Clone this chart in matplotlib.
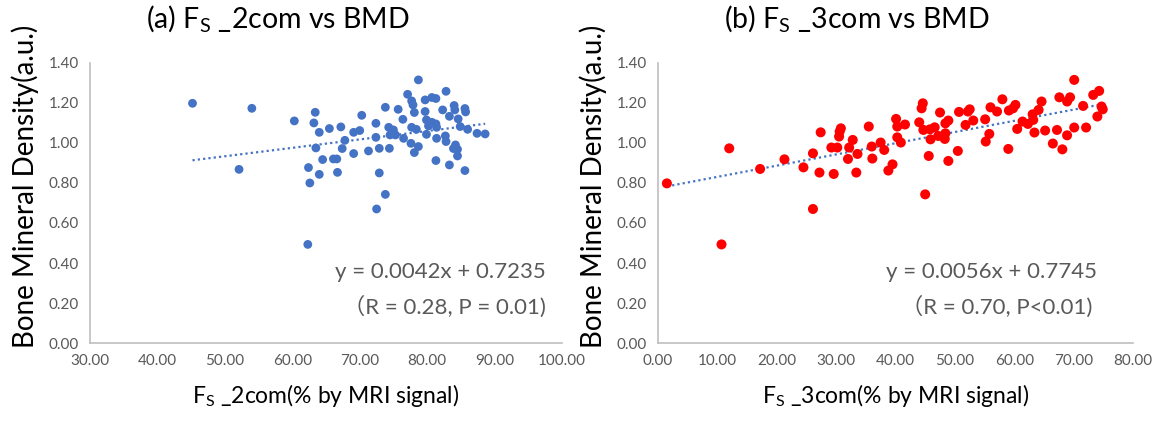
"""FS_2com / FS_3com vs BMD scatter with linear trend"""
import numpy as np
import matplotlib
matplotlib.use('Agg')
import matplotlib.pyplot as plt

plt.rcParams['font.family'] = ['Lato', 'Noto Sans CJK SC', 'DejaVu Sans']
plt.rcParams['mathtext.default'] = 'regular'

# --- data ---
fs2_x = [45.2, 54.0, 52.1, 60.3, 63.4, 63.2, 64.0, 65.5, 67.2, 70.3, 69.1, 70.0, 67.8, 72.4,
         72.4, 63.5, 67.4, 69.1, 71.3, 72.9, 64.5, 66.1, 66.6, 62.4, 64.0, 66.7, 62.6, 72.9,
         72.5, 62.3,
         78.7, 77.1, 77.7, 77.9, 79.7, 80.7, 81.3, 82.8, 73.8, 75.7, 78.1, 79.7, 82.3, 84.0,
         84.1, 85.6, 85.7, 83.3, 84.6, 76.4, 79.9, 80.7, 81.3, 80.2, 74.3, 75.0, 74.5, 75.3,
         77.7, 78.4, 79.9, 81.4, 84.9, 86.0, 87.4, 88.6, 76.5, 81.4, 82.7, 82.8, 77.6, 78.7,
         78.1, 84.2, 84.5, 83.9, 84.5, 74.4, 81.3, 83.3, 85.6, 73.8]
fs2_y = [1.198, 1.173, 0.868, 1.110, 1.153, 1.100, 1.053, 1.072, 1.080, 1.138, 1.053, 1.062,
         1.013, 1.098, 1.028, 0.975, 0.972, 0.947, 0.960, 0.973, 0.917, 0.920, 0.920, 0.877,
         0.843, 0.853, 0.800, 0.850, 0.670, 0.493,
         1.315, 1.243, 1.210, 1.190, 1.215, 1.227, 1.222, 1.258, 1.178, 1.168, 1.152, 1.157,
         1.165, 1.187, 1.165, 1.172, 1.155, 1.133, 1.120, 1.118, 1.115, 1.103, 1.095, 1.085,
         1.078, 1.065, 1.040, 1.040, 1.078, 1.068, 1.043, 1.078, 1.082, 1.068, 1.048, 1.045,
         1.023, 1.023, 1.035, 1.007, 0.998, 0.982, 0.952, 0.990, 0.968, 0.972, 0.935, 0.973,
         0.912, 0.890, 0.862, 0.743]

fs3_x = [1.5, 12.0, 10.7, 17.2, 21.3, 24.5, 26.1, 27.4, 27.2, 26.1, 29.6, 29.2, 30.2, 30.8,
         30.6, 30.5, 32.0, 32.2, 32.8, 33.6, 33.4, 35.5, 36.0, 36.1, 37.5, 38.1, 38.8, 39.5,
         40.1, 40.3, 41.6, 40.3, 40.9, 44.6, 44.4, 44.0, 44.7, 45.8, 46.6, 45.9, 45.6, 45.0,
         47.5, 48.4, 48.9, 47.2, 48.3, 48.4, 48.9, 50.5, 50.7, 52.2, 52.5, 53.1, 51.8, 55.1,
         56.0, 57.1, 58.0, 55.8, 55.2, 59.0, 59.1, 59.8, 60.2, 60.5, 61.4, 62.3, 63.2, 63.1,
         64.1, 64.6, 63.4, 65.2, 67.2, 67.6, 68.9, 69.4, 66.5, 68.1, 68.9, 70.1, 70.1, 72.1,
         71.6, 73.3, 74.3, 74.7, 74.9, 74.0]
fs3_y = [0.798, 0.973, 0.493, 0.870, 0.918, 0.878, 0.948, 1.053, 0.852, 0.670, 0.845, 0.977,
         0.977, 1.073, 1.057, 1.032, 0.920, 0.977, 1.015, 0.945, 0.852, 1.082, 0.982, 0.922,
         1.002, 0.965, 0.862, 0.893, 1.120, 1.082, 1.092, 1.028, 1.002, 1.198, 1.173, 1.103,
         1.065, 1.068, 1.078, 1.018, 0.935, 0.743, 1.152, 1.098, 1.112, 1.035, 1.020, 1.048,
         0.910, 0.960, 1.155, 1.157, 1.168, 1.112, 1.090, 1.118, 1.178, 1.157, 1.218, 1.045,
         1.007, 0.970, 1.162, 1.173, 1.190, 1.070, 1.107, 1.095, 1.115, 1.143, 1.165, 1.207,
         1.052, 1.062, 1.065, 1.228, 1.207, 1.228, 0.997, 0.968, 1.038, 1.315, 1.077, 1.077,
         1.185, 1.240, 1.260, 1.182, 1.168, 1.132]

# trend line coefficients as printed on the chart
fit2 = (0.0042, 0.7235)
fit3 = (0.0056, 0.7745)

yticks = [0.0, 0.2, 0.4, 0.6, 0.8, 1.0, 1.2, 1.4]
xticks2 = [30, 40, 50, 60, 70, 80, 90, 100]
xticks3 = [0, 10, 20, 30, 40, 50, 60, 70, 80]

BLUE = '#4472C4'
RED = '#FF0000'
GRID = '#BFBFBF'
TICK = '#595959'
TXT = '#595959'

fig = plt.figure(figsize=(11.66, 4.22), dpi=100)
ax1 = fig.add_axes([0.0772, 0.187, 0.4048, 0.664])
ax2 = fig.add_axes([0.5643, 0.187, 0.4074, 0.664])


def style(ax, xticks):
    ax.set_ylim(0, 1.4)
    ax.set_xlim(xticks[0], xticks[-1])
    ax.set_yticks(yticks)
    ax.set_xticks(xticks)
    ax.set_yticklabels([f'{v:.2f}' for v in yticks])
    ax.set_xticklabels([f'{v:.2f}' for v in xticks])
    for s in ('top', 'right'):
        ax.spines[s].set_visible(False)
    for s in ('left', 'bottom'):
        ax.spines[s].set_color(GRID)
        ax.spines[s].set_linewidth(1.2)
    ax.tick_params(length=0, labelsize=11, labelcolor=TICK, pad=8)
    ax.set_ylabel('Bone Mineral Density(a.u.)', fontsize=20, labelpad=7)
    ax.yaxis.label.set_y(0.56)  # sits a bit high, as in the original


# === (a) ===
style(ax1, xticks2)
ax1.scatter(fs2_x, fs2_y, s=40, color=BLUE, edgecolors='none', zorder=3)
xl = np.array([min(fs2_x), max(fs2_x)])
ax1.plot(xl, fit2[0] * xl + fit2[1], linestyle=(0, (1, 1.4)), color=BLUE, linewidth=1.6, zorder=2)
fig.text(278 / 1166, 0.955, '(a) F$_S$ _2com vs BMD', fontsize=20.5, ha='center', va='center')
ax1.set_xlabel('F$_S$ _2com(% by MRI signal)', fontsize=16.5, labelpad=10)
ax1.text(0.965, 0.254, 'y = 0.0042x + 0.7235', transform=ax1.transAxes,
         ha='right', va='center', fontsize=16, color=TXT)
ax1.text(0.965, 0.129, '（R = 0.28, P = 0.01)', transform=ax1.transAxes,
         ha='right', va='center', fontsize=16, color=TXT)

# === (b) ===
style(ax2, xticks3)
ax2.scatter(fs3_x, fs3_y, s=52, color=RED, edgecolors='none', zorder=3)
xl = np.array([min(fs3_x), max(fs3_x)])
ax2.plot(xl, fit3[0] * xl + fit3[1], linestyle=(0, (1, 1.4)), color=BLUE, linewidth=1.6, zorder=2)
fig.text(857 / 1166, 0.955, '(b) F$_S$ _3com vs BMD', fontsize=20.5, ha='center', va='center')
ax2.set_xlabel('F$_S$ _3com(% by MRI signal)', fontsize=16.5, labelpad=10)
ax2.text(0.925, 0.254, 'y = 0.0056x + 0.7745', transform=ax2.transAxes,
         ha='right', va='center', fontsize=16, color=TXT)
ax2.text(0.915, 0.129, '（R = 0.70, P<0.01)', transform=ax2.transAxes,
         ha='right', va='center', fontsize=16, color=TXT)

fig.savefig('out.png', dpi=100)
